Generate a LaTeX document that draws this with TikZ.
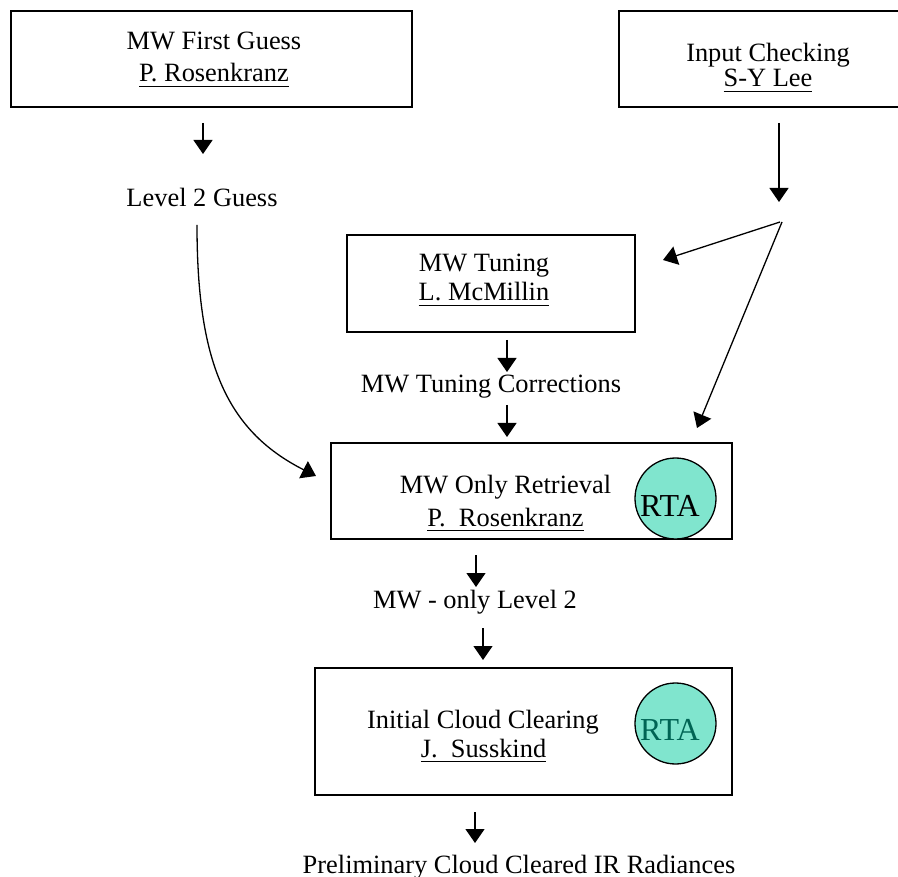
\documentclass[tikz,border=0pt]{standalone}
\usepackage{fontspec}
\setmainfont{Liberation Serif}
\usetikzlibrary{arrows.meta}
\definecolor{rtafill}{RGB}{128,229,206}
\definecolor{rtatext}{RGB}{0,100,84}
% underlined author names
\newsavebox\ulbox
\newcommand\ulname[1]{\sbox\ulbox{#1}\rlap{\rule[-5pt]{\wd\ulbox}{1.3pt}}\usebox\ulbox}
\tikzset{
  box/.style={draw, line width=1.4pt, inner sep=0pt},
  lbl/.style={anchor=base, inner sep=0pt, font=\fontsize{26.4}{30}\selectfont},
  rta/.style={circle, draw, line width=1.3pt, fill=rtafill, minimum size=81pt, inner sep=0pt},
  rtalbl/.style={anchor=base, inner sep=0pt, font=\fontsize{32}{36}\selectfont},
  flow/.style={line width=1.3pt, -{Triangle[length=14pt,width=19pt]}},
}
\begin{document}
\begin{tikzpicture}[x=1pt,y=-1pt]
\useasboundingbox (0,0) rectangle (898,877);

% process boxes
\node[box, minimum width=401pt, minimum height=96pt] (guess) at (211.5,59) {};
\node[box, minimum width=298pt, minimum height=96pt] (check) at (768,59) {};
\node[box, minimum width=288pt, minimum height=97pt] (tune) at (491,283.5) {};
\node[box, minimum width=401pt, minimum height=96pt] (mwret) at (531.5,491) {};
\node[box, minimum width=417pt, minimum height=127pt] (ccl) at (523.5,731.5) {};

% RTA circles
\node[rta] (rta1) at (675.5,498.5) {};
\node[rta] (rta2) at (675.5,723.5) {};
\node[rtalbl] (rta1t) at (670,517) {RTA};
\node[rtalbl, text=rtatext] (rta2t) at (670,740) {RTA};

% box texts
\node[lbl] (guess1) at (214,50) {MW First Guess};
\node[lbl] (guess2) at (214,82) {\ulname{P. Rosenkranz}};
\node[lbl] (check1) at (768,62) {Input Checking};
\node[lbl] (check2) at (768,87) {\ulname{S-Y Lee}};
\node[lbl] (tune1) at (484,272) {MW Tuning};
\node[lbl] (tune2) at (484,301) {\ulname{L. McMillin}};
\node[lbl] (mwret1) at (505.5,494) {MW Only Retrieval};
\node[lbl] (mwret2) at (505.5,526) {\ulname{P.\ \ Rosenkranz}};
\node[lbl] (ccl1) at (483,728) {Initial Cloud Clearing};
\node[lbl] (ccl2) at (483.5,757) {\ulname{J.\ \ Susskind}};

% intermediate products
\node[lbl] (lev2) at (202,207) {Level 2 Guess};
\node[lbl] (corr) at (491,393) {MW Tuning Corrections};
\node[lbl] (mwl2) at (475,608) {MW - only Level 2};
\node[lbl] (pccr) at (519,873) {Preliminary Cloud Cleared IR Radiances};

% arrow end points
\coordinate (a1s) at (203,123); \coordinate (a1e) at (203,154);
\coordinate (a2s) at (779,123); \coordinate (a2e) at (779,202);
\coordinate (a3s) at (780,222); \coordinate (a3e) at (663,260);
\coordinate (a4s) at (782,222); \coordinate (a4e) at (697,428);
\coordinate (a5s) at (507,340); \coordinate (a5e) at (507,372);
\coordinate (a6s) at (507,405); \coordinate (a6e) at (507,437);
\coordinate (a7s) at (476,555); \coordinate (a7e) at (476,587);
\coordinate (a8s) at (483,628); \coordinate (a8e) at (483,660);
\coordinate (a9s) at (475,812); \coordinate (a9e) at (475,843);
\coordinate (cvs) at (197,225); \coordinate (cve) at (316,476);

\draw[flow] (a1s) -- (a1e);
\draw[flow] (a2s) -- (a2e);
\draw[flow] (a3s) -- (a3e);
\draw[flow] (a4s) -- (a4e);
\draw[flow] (a5s) -- (a5e);
\draw[flow] (a6s) -- (a6e);
\draw[flow] (a7s) -- (a7e);
\draw[flow] (a8s) -- (a8e);
\draw[flow] (a9s) -- (a9e);
\draw[flow] (cvs) .. controls (197,360) and (225,430) .. (cve);
\end{tikzpicture}
\end{document}
